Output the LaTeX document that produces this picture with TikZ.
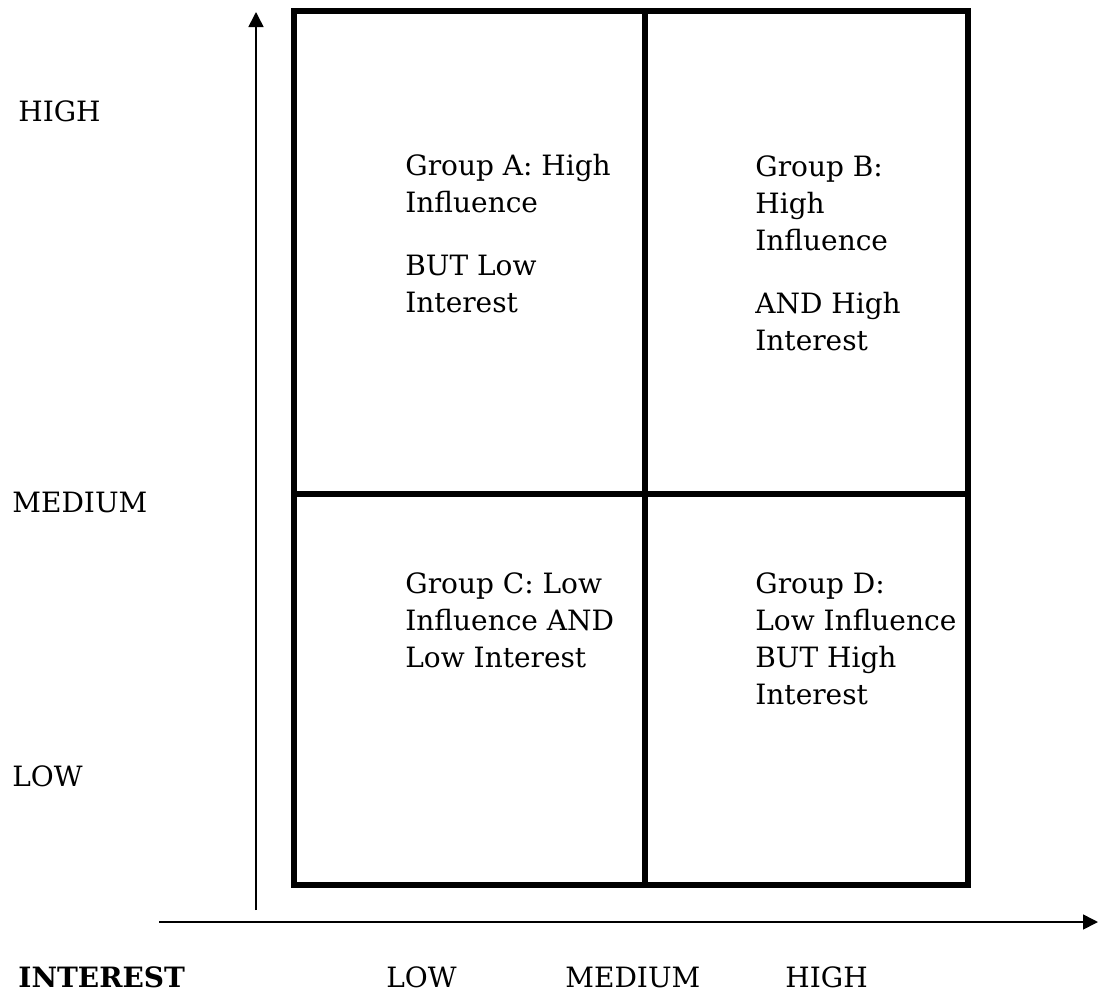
\documentclass[tikz,border=0pt]{standalone}
\usepackage{fontspec}
\setmainfont{DejaVu Serif}
\usetikzlibrary{arrows.meta}
\begin{document}
\begin{tikzpicture}[x=0.5pt,y=-0.5pt,
  grid/.style={line width=2.8pt},
  axis/.style={line width=0.8pt,-{Triangle[length=7.5pt,width=7.5pt]}},
  lbl/.style={anchor=base west,inner sep=0pt,font=\fontsize{14}{18.5}\selectfont},
  grp/.style={anchor=north west,inner sep=0pt,align=left,font=\fontsize{14}{18.5}\selectfont}]
\useasboundingbox (0,0) rectangle (1099,991);

% axes
\coordinate (yfoot) at (256,910);
\coordinate (ytip)  at (256,12);
\coordinate (xfoot) at (159,922);
\coordinate (xtip)  at (1098,922);
\draw[axis] (yfoot) -- (ytip);
\draw[axis] (xfoot) -- (xtip);

% quadrant grid
\coordinate (nw) at (294,11);
\coordinate (se) at (968,885);
\coordinate (mt) at (645,11);
\coordinate (mb) at (645,885);
\coordinate (ml) at (294,494);
\coordinate (mr) at (968,494);
\draw[grid] (nw) rectangle (se);
\draw[grid] (mt) -- (mb);
\draw[grid] (ml) -- (mr);

% influence scale
\node[lbl] (inhigh) at (18,121) {HIGH};
\node[lbl] (inmed)  at (12,512) {MEDIUM};
\node[lbl] (inlow)  at (12,786) {LOW};

% interest scale
\node[lbl,font=\fontsize{14}{18.5}\selectfont\bfseries] (interest) at (18,987) {INTEREST};
\node[lbl] (itlow)  at (386,987) {LOW};
\node[lbl] (itmed)  at (565,987) {MEDIUM};
\node[lbl] (ithigh) at (785,987) {HIGH};

% quadrant texts
\node[grp] (ga) at (405,154) {Group A: High\\Influence\\[13pt]BUT Low\\Interest};
\node[grp] (gb) at (755,155) {Group B:\\High\\Influence\\[13pt]AND High\\Interest};
\node[grp] (gc) at (405,572) {Group C: Low\\Influence AND\\Low Interest};
\node[grp] (gd) at (755,572) {Group D:\\Low Influence\\BUT High\\Interest};
\end{tikzpicture}
\end{document}
